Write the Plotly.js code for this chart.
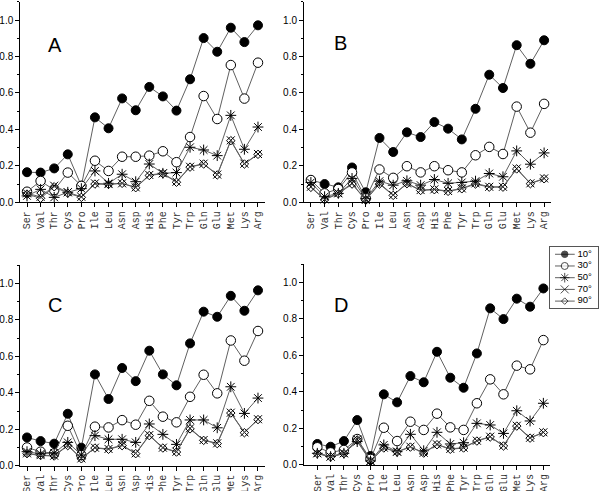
<!DOCTYPE html>
<html>
<head>
<meta charset="utf-8">
<script src="https://cdn.plot.ly/plotly-3.0.1.min.js"></script>
<style>html,body{margin:0;padding:0;background:#fff;}#chart{width:600px;height:491px;}</style>
</head>
<body>
<div id="chart"></div>
<script>
var categories = ["Ser","Val","Thr","Cys","Pro","Ile","Leu","Asn","Asp","His","Phe","Tyr","Trp","Gln","Glu","Met","Lys","Arg"];
var seriesNames = ["10°","30°","50°","70°","90°"];
var panelLabels = ["A","B","C","D"];
var yTickVals = [0,0.2,0.4,0.6,0.8,1.0];

var A10 = [0.165,0.163,0.186,0.263,0.091,0.466,0.406,0.570,0.505,0.633,0.581,0.503,0.675,0.901,0.826,0.958,0.879,0.971];
var A30 = [0.058,0.117,0.067,0.163,0.090,0.228,0.172,0.250,0.250,0.256,0.280,0.220,0.358,0.583,0.457,0.753,0.569,0.766];
var A50 = [0.035,0.071,0.027,0.055,0.075,0.172,0.104,0.154,0.113,0.210,0.159,0.163,0.302,0.287,0.256,0.477,0.291,0.413];
var A70 = [0.049,0.030,0.091,0.055,0.030,0.104,0.100,0.104,0.082,0.150,0.159,0.113,0.195,0.212,0.152,0.340,0.212,0.265];
var A90 = [0.045,0.022,0.085,0.050,0.027,0.100,0.098,0.104,0.080,0.147,0.157,0.110,0.193,0.210,0.150,0.338,0.210,0.263];

var B10 = [0.122,0.100,0.082,0.191,0.055,0.353,0.276,0.384,0.358,0.440,0.404,0.345,0.513,0.700,0.627,0.862,0.760,0.889];
var B30 = [0.122,0.049,0.073,0.164,0.022,0.180,0.134,0.198,0.164,0.198,0.176,0.164,0.258,0.304,0.265,0.525,0.382,0.540];
var B50 = [0.109,0.031,0.049,0.131,0.020,0.116,0.094,0.118,0.094,0.125,0.104,0.109,0.116,0.158,0.140,0.282,0.209,0.271];
var B70 = [0.085,0.016,0.050,0.104,0.013,0.104,0.040,0.104,0.067,0.071,0.062,0.076,0.104,0.085,0.085,0.185,0.104,0.131];
var B90 = [0.082,0.014,0.047,0.100,0.012,0.100,0.038,0.102,0.065,0.069,0.060,0.074,0.100,0.083,0.083,0.183,0.102,0.129];

var C10 = [0.155,0.135,0.121,0.285,0.099,0.501,0.366,0.536,0.464,0.631,0.501,0.441,0.671,0.845,0.817,0.932,0.850,0.962];
var C30 = [0.100,0.077,0.068,0.219,0.058,0.214,0.210,0.250,0.225,0.356,0.269,0.238,0.378,0.499,0.397,0.687,0.576,0.739];
var C50 = [0.077,0.065,0.070,0.128,0.059,0.165,0.145,0.145,0.128,0.229,0.172,0.117,0.251,0.251,0.208,0.433,0.287,0.371];
var C70 = [0.068,0.058,0.055,0.113,0.040,0.099,0.092,0.113,0.068,0.168,0.099,0.077,0.205,0.141,0.123,0.291,0.183,0.255];
var C90 = [0.066,0.056,0.053,0.110,0.038,0.097,0.090,0.110,0.066,0.165,0.097,0.075,0.202,0.139,0.121,0.289,0.181,0.253];

var D10 = [0.115,0.100,0.131,0.246,0.049,0.387,0.343,0.487,0.453,0.620,0.478,0.423,0.611,0.858,0.799,0.911,0.867,0.967];
var D30 = [0.097,0.069,0.082,0.142,0.033,0.204,0.131,0.237,0.192,0.281,0.206,0.192,0.338,0.469,0.387,0.544,0.524,0.684];
var D50 = [0.064,0.046,0.064,0.128,0.022,0.110,0.073,0.168,0.078,0.179,0.115,0.122,0.228,0.219,0.173,0.297,0.241,0.338];
var D70 = [0.064,0.046,0.064,0.140,0.022,0.095,0.073,0.100,0.067,0.113,0.088,0.095,0.133,0.155,0.106,0.215,0.149,0.179];
var D90 = [0.062,0.044,0.062,0.137,0.020,0.093,0.071,0.098,0.065,0.111,0.086,0.093,0.131,0.153,0.104,0.213,0.147,0.177];

var panels = [[A10,A30,A50,A70,A90],[B10,B30,B50,B70,B90],[C10,C30,C50,C70,C90],[D10,D30,D50,D70,D90]];

var LINE_COLOR = "#606060";
var markerStyles = [
  {symbol:"circle", size:9, color:"#000", line:{color:"#000", width:1}},
  {symbol:"circle", size:9.5, color:"#fff", line:{color:"#000", width:1}},
  {symbol:"asterisk-open", size:9, color:"#000", line:{color:"#000", width:1}},
  {symbol:"x-thin-open", size:8, color:"#000", line:{color:"#000", width:1}},
  {symbol:"diamond-open", size:6.5, color:"#000", line:{color:"#000", width:1}}
];
var legendMarkerSizes = [6.5, 7, 8, 8, 5];

var traces = [];
panels.forEach(function(p, pi){
  var ax = pi === 0 ? "" : String(pi+1);
  p.forEach(function(vals, si){
    traces.push({
      type:"scatter", mode:"lines+markers",
      x:categories, y:vals,
      xaxis:"x"+ax, yaxis:"y"+ax,
      name:seriesNames[si], legendgroup:seriesNames[si],
      showlegend:false,
      line:{color:LINE_COLOR, width:1},
      marker:markerStyles[si],
      cliponaxis:false
    });
  });
});

// Legend key (drawn in its own small box axes, one row per series)
var legRowStep = 11.7, legRow0 = 7.3;
seriesNames.forEach(function(name, si){
  var ry = legRow0 + si*legRowStep;
  var ms = Object.assign({}, markerStyles[si], {size:[0, legendMarkerSizes[si], 0]});
  traces.push({
    type:"scatter", mode:"lines+markers",
    x:[5, 14.7, 24.7], y:[ry, ry, ry],
    xaxis:"x5", yaxis:"y5", name:name, showlegend:false,
    line:{color:LINE_COLOR, width:1}, marker:ms, cliponaxis:false
  });
  traces.push({
    type:"scatter", mode:"text",
    x:[27.5], y:[ry], text:[name], textposition:"middle right",
    xaxis:"x5", yaxis:"y5", name:name, showlegend:false, cliponaxis:false,
    textfont:{family:"Liberation Sans, Arial, sans-serif", size:9.5, color:"#000"}
  });
});

function xAx(domain, range){
  return {
    domain:domain, type:"category", categoryarray:categories, range:range,
    showgrid:false, zeroline:false, showline:true, linecolor:"#000", linewidth:1,
    ticks:"outside", ticklen:4, tickcolor:"#000", tickangle:-90,
    tickfont:{family:"Liberation Mono, Courier New, monospace", size:10, color:"#333"}
  };
}
function yAx(domain, anchor){
  return {
    domain:domain, anchor:anchor, range:[0,1.1], tickvals:yTickVals, tickformat:".1f",
    showgrid:false, zeroline:false, showline:true, linecolor:"#000", linewidth:1,
    ticks:"outside", ticklen:4, tickcolor:"#000",
    minor:{dtick:0.1, ticks:"outside", ticklen:2, tickcolor:"#000"},
    tickfont:{family:"Liberation Sans, Arial, sans-serif", size:10, color:"#000"}
  };
}

var labelPos = [[0.142,0.785],[0.149,0.797],[0.142,0.80],[0.149,0.796]];

var layout = {
  width:600, height:491,
  margin:{l:0,r:0,t:0,b:0},
  paper_bgcolor:"#fff", plot_bgcolor:"#fff",
  showlegend:false,
  xaxis:  Object.assign(xAx([0.0337,0.4413],[-0.5,17.5]), {anchor:"y"}),
  yaxis:  yAx([0.588,0.9963],"x"),
  xaxis2: Object.assign(xAx([0.5067,0.9183],[-0.5,17.5]), {anchor:"y2"}),
  yaxis2: yAx([0.588,0.9963],"x2"),
  xaxis3: Object.assign(xAx([0.0337,0.4413],[-0.5,17.5]), {anchor:"y3"}),
  yaxis3: yAx([0.0515,0.4599],"x3"),
  xaxis4: Object.assign(xAx([0.5067,0.9167],[-1,17.5]), {anchor:"y4"}),
  yaxis4: yAx([0.053,0.462],"x4"),
  xaxis5: {domain:[0.9167,0.9967], anchor:"y5", range:[0,48], fixedrange:true,
    showgrid:false, zeroline:false, showticklabels:false, ticks:"",
    showline:true, mirror:true, linecolor:"#555", linewidth:1},
  yaxis5: {domain:[0.3727,0.497], anchor:"x5", range:[61,0], fixedrange:true,
    showgrid:false, zeroline:false, showticklabels:false, ticks:"",
    showline:true, mirror:true, linecolor:"#555", linewidth:1},
  annotations: panelLabels.map(function(t, i){
    var ax = i === 0 ? "" : String(i+1);
    return {text:t, xref:"x"+ax+" domain", yref:"y"+ax+" domain", x:labelPos[i][0], y:labelPos[i][1],
      xanchor:"center", yanchor:"middle", showarrow:false,
      font:{family:"Liberation Sans, Arial, sans-serif", size:20, color:"#000"}};
  })
};

Plotly.newPlot("chart", traces, layout, {displayModeBar:false, staticPlot:true});
</script>
</body>
</html>
